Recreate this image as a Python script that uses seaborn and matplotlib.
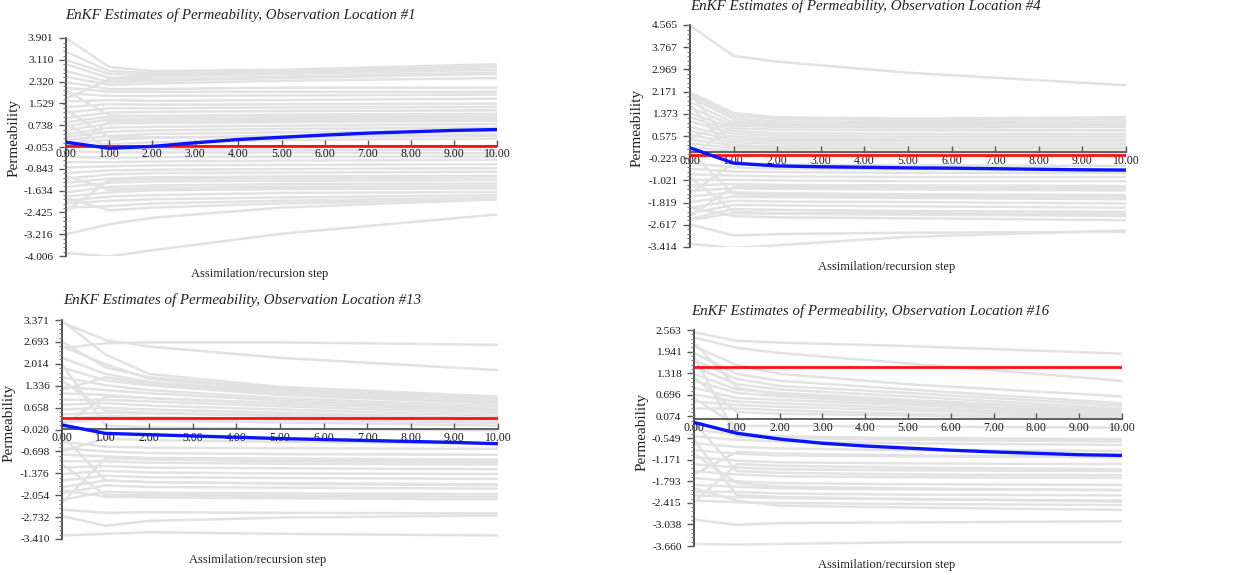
import numpy as np
import pandas as pd
import seaborn as sns
import matplotlib.pyplot as plt
from matplotlib.ticker import AutoMinorLocator

# -----------------------------
# DATA
# -----------------------------
STEPS = list(range(11))
ENS_STEPS = [0, 1, 2, 5, 10]

titles = [
    "EnKF Estimates of Permeability, Observation Location #1",
    "EnKF Estimates of Permeability, Observation Location #4",
    "EnKF Estimates of Permeability, Observation Location #13",
    "EnKF Estimates of Permeability, Observation Location #16",
]

yticks_loc1 = [3.901, 3.110, 2.320, 1.529, 0.738, -0.053, -0.843, -1.634, -2.425, -3.216, -4.006]
yticks_loc4 = [4.565, 3.767, 2.969, 2.171, 1.373, 0.575, -0.223, -1.021, -1.819, -2.617, -3.414]
yticks_loc13 = [3.371, 2.693, 2.014, 1.336, 0.658, -0.020, -0.698, -1.376, -2.054, -2.732, -3.410]
yticks_loc16 = [2.563, 1.941, 1.318, 0.696, 0.074, -0.549, -1.171, -1.793, -2.415, -3.038, -3.660]

# ensemble mean (blue) at every step
mean_loc1 = [0.12, -0.10, -0.03, 0.10, 0.22, 0.30, 0.38, 0.45, 0.50, 0.55, 0.58]
mean_loc4 = [0.15, -0.40, -0.50, -0.53, -0.55, -0.57, -0.58, -0.60, -0.62, -0.64, -0.65]
mean_loc13 = [0.12, -0.14, -0.18, -0.22, -0.26, -0.30, -0.33, -0.36, -0.39, -0.42, -0.46]
mean_loc16 = [-0.10, -0.41, -0.58, -0.70, -0.78, -0.84, -0.90, -0.95, -0.99, -1.03, -1.05]

# true permeability (red)
truth_loc1 = -0.03
truth_loc4 = -0.12
truth_loc13 = 0.33
truth_loc16 = 1.49

# ensemble members (grey), values at ENS_STEPS
ens_loc1 = [
    [3.90, 2.85, 2.70, 2.75, 2.95], [3.10, 2.60, 2.55, 2.65, 2.85], [2.95, 2.45, 2.50, 2.60, 2.75],
    [2.70, 2.30, 2.35, 2.45, 2.60], [2.50, 2.20, 2.25, 2.35, 2.45], [2.30, 2.05, 2.05, 2.10, 2.10],
    [2.10, 1.95, 1.95, 1.95, 1.95], [1.90, 1.80, 1.80, 1.82, 1.85], [1.60, 1.65, 1.62, 1.65, 1.70],
    [1.40, 1.50, 1.48, 1.50, 1.52], [1.20, 1.35, 1.35, 1.38, 1.40], [1.00, 1.20, 1.22, 1.25, 1.28],
    [0.85, 1.05, 1.08, 1.12, 1.15], [0.70, 0.95, 0.95, 0.98, 1.02], [0.55, 0.80, 0.82, 0.85, 0.90],
    [0.40, 0.65, 0.68, 0.72, 0.78], [0.30, 0.50, 0.55, 0.60, 0.65], [0.20, 0.35, 0.42, 0.48, 0.52],
    [0.10, 0.20, 0.28, 0.35, 0.40], [0.00, 0.05, 0.12, 0.20, 0.25], [-0.20, -0.25, -0.25, -0.25, -0.28],
    [-0.40, -0.45, -0.42, -0.40, -0.40], [-0.60, -0.60, -0.58, -0.55, -0.52], [-0.80, -0.75, -0.72, -0.70, -0.68],
    [-1.00, -0.90, -0.88, -0.85, -0.82], [-1.20, -1.05, -1.00, -0.98, -0.95], [-1.35, -1.20, -1.15, -1.12, -1.10],
    [-1.50, -1.35, -1.30, -1.28, -1.25], [-1.70, -1.50, -1.45, -1.40, -1.38], [-1.85, -1.70, -1.62, -1.58, -1.55],
    [-2.00, -1.85, -1.80, -1.72, -1.68], [-2.10, -2.00, -1.95, -1.88, -1.80], [-2.25, -2.20, -2.10, -2.00, -1.90],
    [-1.90, -2.35, -2.25, -2.10, -1.95], [-3.22, -2.85, -2.62, -2.25, -1.95], [-3.90, -4.02, -3.80, -3.20, -2.50],
    [1.30, 0.30, 0.30, 0.32, 0.35], [-0.30, 0.90, 0.90, 0.92, 0.95], [2.00, 1.10, 1.05, 1.05, 1.08],
    [-1.10, -1.60, -1.55, -1.50, -1.48], [0.80, -0.10, -0.12, -0.15, -0.15], [-2.40, -1.25, -1.20, -1.18, -1.15],
    [3.40, 2.70, 2.62, 2.70, 2.90], [1.70, 2.40, 2.40, 2.50, 2.65],
]

ens_loc4 = [
    [4.55, 3.45, 3.25, 2.85, 2.40], [2.15, 1.40, 1.25, 1.20, 1.25], [2.05, 1.30, 1.20, 1.15, 1.20],
    [1.95, 1.20, 1.10, 1.08, 1.10], [1.80, 1.05, 1.00, 0.98, 1.00], [1.60, 0.95, 0.90, 0.88, 0.90],
    [1.40, 0.85, 0.80, 0.78, 0.78], [1.25, 0.75, 0.68, 0.65, 0.65], [1.10, 0.65, 0.58, 0.55, 0.55],
    [0.90, 0.55, 0.48, 0.45, 0.45], [0.75, 0.45, 0.40, 0.38, 0.38], [0.60, 0.35, 0.30, 0.28, 0.28],
    [0.45, 0.25, 0.20, 0.18, 0.18], [0.30, 0.15, 0.12, 0.10, 0.10], [0.15, 0.05, 0.02, 0.00, 0.00],
    [-0.40, -0.55, -0.60, -0.62, -0.62], [-0.60, -0.70, -0.72, -0.75, -0.75], [-0.80, -0.85, -0.88, -0.90, -0.90],
    [-1.00, -1.00, -1.02, -1.05, -1.05], [-1.20, -1.15, -1.18, -1.20, -1.22], [-1.40, -1.30, -1.32, -1.35, -1.38],
    [-1.60, -1.45, -1.48, -1.52, -1.55], [-1.80, -1.60, -1.62, -1.65, -1.70], [-2.00, -1.75, -1.78, -1.80, -1.85],
    [-2.20, -1.90, -1.92, -1.95, -2.00], [-2.40, -2.05, -2.08, -2.12, -2.15], [-2.45, -2.20, -2.22, -2.25, -2.30],
    [-2.00, -2.30, -2.35, -2.38, -2.45], [-2.60, -3.00, -2.95, -2.90, -2.87], [-3.30, -3.45, -3.35, -3.05, -2.82],
    [2.10, 0.20, 0.15, 0.12, 0.12], [-0.20, 1.00, 0.95, 0.92, 0.95], [0.00, -1.50, -1.55, -1.58, -1.60],
    [-1.50, -0.40, -0.45, -0.48, -0.50], [1.70, -0.05, -0.05, -0.05, -0.05], [-2.30, -1.25, -1.25, -1.28, -1.30],
    [0.50, 1.10, 1.02, 1.00, 1.02], [-0.90, -2.15, -2.20, -2.20, -2.25],
]

ens_loc13 = [
    [2.50, 2.65, 2.68, 2.68, 2.60], [3.30, 2.75, 2.55, 2.20, 1.82], [3.35, 2.30, 1.70, 1.30, 1.00],
    [2.55, 2.00, 1.55, 1.20, 0.92], [2.20, 1.70, 1.45, 1.15, 0.85], [1.90, 1.50, 1.35, 1.05, 0.78],
    [1.60, 1.35, 1.20, 0.95, 0.70], [1.30, 1.20, 1.10, 0.88, 0.62], [1.10, 1.05, 0.95, 0.78, 0.55],
    [0.90, 0.90, 0.85, 0.70, 0.48], [0.75, 0.80, 0.72, 0.60, 0.40], [0.60, 0.65, 0.60, 0.50, 0.32],
    [0.45, 0.50, 0.48, 0.40, 0.25], [0.30, 0.40, 0.36, 0.30, 0.18], [0.20, 0.30, 0.26, 0.20, 0.10],
    [1.50, 0.55, 0.50, 0.42, 0.30], [-0.40, -0.55, -0.58, -0.60, -0.62], [-0.60, -0.70, -0.75, -0.78, -0.80],
    [-0.80, -0.85, -0.90, -0.92, -0.95], [-1.00, -1.00, -1.05, -1.08, -1.10], [-1.20, -1.15, -1.20, -1.22, -1.25],
    [-1.40, -1.30, -1.35, -1.38, -1.40], [-1.60, -1.45, -1.50, -1.52, -1.55], [-1.80, -1.60, -1.65, -1.68, -1.72],
    [-2.00, -1.75, -1.80, -1.82, -1.85], [-2.20, -1.95, -1.98, -2.00, -2.02], [-1.90, -2.10, -2.12, -2.15, -2.18],
    [-2.70, -3.00, -2.85, -2.75, -2.68], [-3.30, -3.25, -3.20, -3.25, -3.30], [-2.50, -2.60, -2.58, -2.60, -2.62],
    [2.00, 0.10, 0.05, 0.00, -0.05], [-0.20, -1.60, -1.65, -1.70, -1.75], [-2.30, -0.90, -0.95, -1.00, -1.02],
    [1.20, 1.60, 1.40, 1.10, 0.80], [-1.10, -2.05, -2.05, -2.08, -2.10], [0.10, 1.00, 0.95, 0.80, 0.60],
    [-0.70, -0.30, -0.35, -0.40, -0.45], [2.70, 1.90, 1.60, 1.25, 0.95],
]

ens_loc16 = [
    [2.50, 2.25, 2.20, 2.10, 1.88], [2.35, 2.05, 1.90, 1.60, 1.10], [2.10, 1.55, 1.30, 1.00, 0.65],
    [1.90, 1.30, 1.10, 0.85, 0.45], [1.70, 1.15, 0.95, 0.75, 0.38], [1.50, 1.00, 0.85, 0.65, 0.30],
    [1.30, 0.85, 0.75, 0.55, 0.25], [1.10, 0.75, 0.65, 0.45, 0.20], [0.90, 0.60, 0.55, 0.40, 0.15],
    [0.70, 0.50, 0.45, 0.32, 0.10], [0.50, 0.40, 0.35, 0.25, 0.05], [0.30, 0.30, 0.25, 0.15, 0.02],
    [2.20, 0.90, 0.70, 0.50, 0.22], [-0.30, -0.45, -0.50, -0.55, -0.58], [-0.50, -0.60, -0.65, -0.70, -0.75],
    [-0.70, -0.80, -0.85, -0.90, -0.92], [-0.90, -1.00, -1.05, -1.08, -1.10], [-1.10, -1.20, -1.25, -1.28, -1.30],
    [-1.30, -1.40, -1.45, -1.48, -1.50], [-1.50, -1.60, -1.65, -1.68, -1.70], [-1.70, -1.80, -1.85, -1.88, -1.90],
    [-1.90, -1.95, -2.00, -2.03, -2.05], [-2.10, -2.10, -2.15, -2.18, -2.20], [-2.20, -2.25, -2.28, -2.32, -2.35],
    [-2.35, -2.40, -2.42, -2.45, -2.48], [-2.00, -2.35, -2.50, -2.55, -2.62], [-2.90, -3.05, -3.00, -2.98, -2.95],
    [-3.60, -3.62, -3.60, -3.55, -3.55], [1.80, -0.50, -0.55, -0.60, -0.65], [-0.10, -1.50, -1.55, -1.60, -1.62],
    [-2.40, -1.30, -1.35, -1.40, -1.45], [0.60, -0.20, -0.20, -0.22, -0.25], [-1.00, -1.85, -1.95, -2.00, -2.05],
    [-0.60, -2.20, -2.25, -2.30, -2.38], [1.20, 0.20, 0.15, 0.10, 0.00], [-1.60, -0.95, -1.00, -1.05, -1.10],
]

# -----------------------------
# LAYOUT (pixels of a 1239x575 figure)
# -----------------------------
W, H = 1239, 575
panels = [
    dict(ens=ens_loc1, mean=mean_loc1, truth=truth_loc1, yticks=yticks_loc1,
         box=(66, 38, 497, 256), title_xy=(240, 15), ylab_xy=(14, 138), xlab_xy=(260, 274)),
    dict(ens=ens_loc4, mean=mean_loc4, truth=truth_loc4, yticks=yticks_loc4,
         box=(690, 25, 1126, 247), title_xy=(865, 6), ylab_xy=(637, 128), xlab_xy=(887, 267)),
    dict(ens=ens_loc13, mean=mean_loc13, truth=truth_loc13, yticks=yticks_loc13,
         box=(62, 320, 498, 539), title_xy=(242, 300), ylab_xy=(9, 423), xlab_xy=(258, 560)),
    dict(ens=ens_loc16, mean=mean_loc16, truth=truth_loc16, yticks=yticks_loc16,
         box=(694, 330, 1122, 546), title_xy=(870, 311), ylab_xy=(642, 432), xlab_xy=(887, 565)),
]

# -----------------------------
# STYLE
# -----------------------------
sns.set_style("white")
plt.rcParams['font.family'] = ['Liberation Serif', 'DejaVu Serif']

fig = plt.figure(figsize=(W / 100, H / 100), dpi=100)

for title, p in zip(titles, panels):
    x0, y0, x1, y1 = p['box']
    ax = fig.add_axes([x0 / W, 1 - y1 / H, (x1 - x0) / W, (y1 - y0) / H])
    ax.set_axisbelow(False)  # tick labels sit over the grey ensemble

    df = pd.DataFrame(
        [(m, s, v) for m, row in enumerate(p['ens']) for s, v in zip(ENS_STEPS, row)],
        columns=['member', 'step', 'value'],
    )
    sns.lineplot(data=df, x='step', y='value', units='member', estimator=None,
                 color='#e2e2e2', lw=1.8, ax=ax, legend=False, zorder=1)
    sns.lineplot(x=STEPS, y=[p['truth']] * len(STEPS), color='#ff1010', lw=2, ax=ax, zorder=3)
    sns.lineplot(x=STEPS, y=p['mean'], color='#0a14ff', lw=2.4, ax=ax, zorder=4)

    yt = p['yticks']
    ax.set_xlim(0, 10)
    ax.set_ylim(yt[-1], yt[0])

    ax.spines[['top', 'right']].set_visible(False)
    ax.spines['bottom'].set_position(('data', 0))
    ax.spines['bottom'].set_color('#555555')
    ax.spines['bottom'].set_linewidth(1.3)
    ax.spines['left'].set_color('#333333')
    ax.spines['left'].set_linewidth(1.2)

    ax.set_xticks(STEPS)
    ax.set_xticklabels([f"{s:.2f}" for s in STEPS])
    ax.set_yticks(yt)
    ax.set_yticklabels([f"{v:.3f}" for v in yt])
    ax.yaxis.set_minor_locator(AutoMinorLocator(5))
    ax.tick_params(axis='x', bottom=True, direction='in', length=4, width=1, color='#555555',
                   pad=2, labelsize=8.5, labelcolor='#1a1a1a')
    ax.tick_params(axis='y', which='major', left=True, direction='out', length=5, width=1,
                   color='#555555', pad=4, labelsize=8.2, labelcolor='#1a1a1a')
    ax.tick_params(axis='y', which='minor', left=True, direction='out', length=2.5,
                   width=0.8, color='#777777')
    ax.set_xlabel('')
    ax.set_ylabel('')

    tx, ty = p['title_xy']
    fig.text(tx / W, 1 - ty / H, title, ha='center', va='center', fontsize=10.8,
             style='italic', color='#222222')
    lx, ly = p['ylab_xy']
    fig.text(lx / W, 1 - ly / H, "Permeability", ha='center', va='center',
             rotation=90, fontsize=11, color='#222222')
    xx, xy = p['xlab_xy']
    fig.text(xx / W, 1 - xy / H, "Assimilation/recursion step", ha='center', va='center',
             fontsize=9, color='#222222')

fig.savefig("out.png", dpi=100)
